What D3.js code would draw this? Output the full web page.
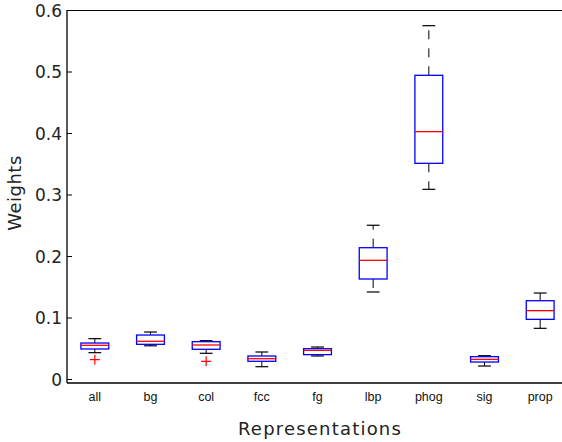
<!DOCTYPE html>
<html><head><meta charset="utf-8">
<script src="https://cdn.jsdelivr.net/npm/d3@7"></script>
<style>body{margin:0;background:#fff}svg{display:block}</style>
</head><body><svg id="c" width="562" height="442"></svg>
<script>
const categories = ["all","bg","col","fcc","fg","lbp","phog","sig","prop"];
const whiskerLow  = [0.0428,0.0540,0.0418,0.0200,0.0374,0.1415,0.3084,0.0211,0.0824];
const q1          = [0.0488,0.0564,0.0483,0.0288,0.0396,0.1626,0.3507,0.0276,0.0970];
const medians     = [0.0548,0.0613,0.0553,0.0330,0.0466,0.1930,0.4022,0.0320,0.1111];
const q3          = [0.0585,0.0715,0.0607,0.0374,0.0493,0.2135,0.4938,0.0363,0.1273];
const whiskerHigh = [0.0656,0.0764,0.0623,0.0439,0.0520,0.2500,0.5745,0.0379,0.1398];
const outliers    = [[0.0314],[],[0.0288],[],[],[],[],[],[]];
const yTicks = [0,0.1,0.2,0.3,0.4,0.5,0.6];

const svg = d3.select("#c");
const L = 67, R = 568, T = 10, B = 383;
const x = d3.scaleLinear().domain([0.5, 9.5]).range([L, R]);
const y = d3.scaleLinear().domain([-0.0065, 0.6]).range([B, T]);
const boxW = x(1.25) - x(0.75);
const capW = x(1.115) - x(0.885);

const rows = categories.map((c,i)=>({c,i,lo:whiskerLow[i],q1:q1[i],m:medians[i],q3:q3[i],hi:whiskerHigh[i],out:outliers[i]}));

// frame
svg.append("line").attr("x1",L).attr("x2",R).attr("y1",T+0.5).attr("y2",T+0.5).attr("stroke","#000").attr("stroke-width",1);
svg.append("line").attr("x1",L).attr("x2",L).attr("y1",T).attr("y2",B).attr("stroke","#000").attr("stroke-width",1.3);
svg.append("line").attr("x1",L).attr("x2",R).attr("y1",B).attr("y2",B).attr("stroke","#000").attr("stroke-width",1.5);

// y axis ticks (inward)
const yAxis = d3.axisRight(y).tickValues(yTicks).tickSize(5).tickFormat("");
svg.append("g").attr("transform",`translate(${L},0)`).call(yAxis)
  .call(g=>g.select(".domain").remove())
  .call(g=>g.selectAll("line").attr("stroke","#000"));
svg.append("g").selectAll("text").data(yTicks).join("text")
  .attr("x",62).attr("y",d=>y(d)+6.5).attr("text-anchor","end")
  .attr("font-family","DejaVu Sans").attr("font-size",17).attr("fill","#222")
  .text(d=>d3.format("")(d));

const g = svg.append("g");
rows.forEach(d=>{
  const cx = x(d.i+1);
  g.append("line").attr("x1",cx).attr("x2",cx).attr("y1",y(d.q3)).attr("y2",y(d.hi))
    .attr("stroke","#000").attr("stroke-dasharray","9,9");
  g.append("line").attr("x1",cx).attr("x2",cx).attr("y1",y(d.q1)).attr("y2",y(d.lo))
    .attr("stroke","#000").attr("stroke-dasharray","9,9");
  [d.lo,d.hi].forEach(v=>g.append("line").attr("x1",cx-capW/2).attr("x2",cx+capW/2)
    .attr("y1",y(v)).attr("y2",y(v)).attr("stroke","#000").attr("stroke-width",1.2));
  g.append("rect").attr("x",cx-boxW/2).attr("width",boxW).attr("y",y(d.q3)).attr("height",y(d.q1)-y(d.q3))
    .attr("fill","#fff").attr("stroke","#0000ff").attr("stroke-width",1.3);
  g.append("line").attr("x1",cx-boxW/2).attr("x2",cx+boxW/2).attr("y1",y(d.m)).attr("y2",y(d.m))
    .attr("stroke","#ff0000").attr("stroke-width",1.3);
  d.out.forEach(v=>{
    g.append("path").attr("d",`M${cx-5},${y(v)}H${cx+5}M${cx},${y(v)-5}V${y(v)+5}`)
      .attr("stroke","#ff0000").attr("stroke-width",1.2).attr("fill","none");
  });
});

svg.append("g").selectAll("text").data(categories).join("text")
  .attr("x",(d,i)=>x(i+1)).attr("y",401).attr("text-anchor","middle")
  .attr("font-family","Liberation Sans").attr("font-size",12.5).attr("fill","#111")
  .text(d=>d);

svg.append("text").attr("x",320).attr("y",435).attr("text-anchor","middle")
  .attr("font-family","DejaVu Sans").attr("font-size",18).attr("letter-spacing",1.2).attr("fill","#222").text("Representations");
svg.append("text").attr("transform","translate(21,193) rotate(-90)").attr("text-anchor","middle")
  .attr("font-family","DejaVu Sans").attr("font-size",18).attr("letter-spacing",0.5).attr("fill","#222").text("Weights");
</script></body></html>
